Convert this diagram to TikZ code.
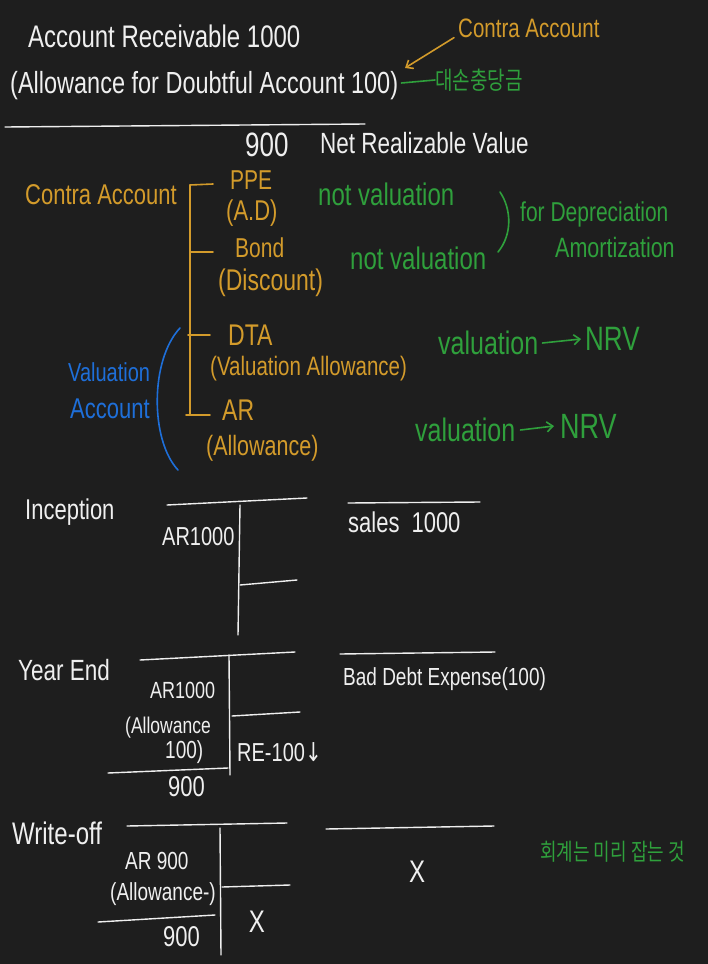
\documentclass[tikz,border=0pt]{standalone}
\usepackage{graphicx}
\usepackage{fontspec}
\setmainfont{Liberation Sans}
\newfontfamily\krfont{Noto Sans CJK KR}
\newfontfamily\symfont{DejaVu Sans}
\usetikzlibrary{arrows.meta}
\definecolor{bg}{HTML}{1E1E1E}
\definecolor{hw}{HTML}{EFEFEF}
\definecolor{org}{HTML}{D39B2B}
\definecolor{grn}{HTML}{2FA03C}
\definecolor{blu}{HTML}{1E6FD9}
\newcommand{\fs}[1]{\fontsize{#1}{#1}\selectfont}
\newcommand{\T}[1]{\scalebox{1}[1.3]{#1}}
\begin{document}
\begin{tikzpicture}[x=1pt,y=-1pt,
  txt/.style={inner sep=0pt, anchor=west, font=\fs{22}},
  wt/.style={txt, text=hw},
  ot/.style={txt, text=org},
  gt/.style={txt, text=grn},
  bt/.style={txt, text=blu},
  wl/.style={draw=hw, line width=1.4pt, line cap=round},
  ol/.style={draw=org, line width=1.6pt, line cap=round},
  gl/.style={draw=grn, line width=1.6pt, line cap=round},
  bl/.style={draw=blu, line width=1.6pt, line cap=round},
  tip/.style={-{Straight Barb[length=6pt,width=10pt]}}
]
\fill[bg] (0,0) rectangle (708,964);
\useasboundingbox (0,0) rectangle (708,964);

% ---------- header ----------
\node[wt, font=\fs{24}] (arhead) at (28,36) {\T{Account Receivable 1000}};
\node[wt, font=\fs{23.5}] (allow) at (10,86) {\T{(Allowance for Doubtful Account 100)}};
\node[txt, text=grn, font=\krfont\fs{19}] (kr1) at (435,80) {\T{대손충당금}};
\draw[gl] (allow.east) ++(3,-3) coordinate (ae) (ae) -- (kr1.west);
\node[ot, font=\fs{20.5}] (ca1) at (458,28) {\T{Contra Account}};
\coordinate (ptr) at (405,68);
\draw[ol, tip] (ca1.south west) ++(-4,0) coordinate (cas) (cas) -- (ptr);
\draw[wl] (5,127) -- (365,124);
\node[wt, font=\fs{26}] (n900) at (245,145) {\T{900}};
\node[wt, font=\fs{22.5}] (nrv) at (320,143) {\T{Net Realizable Value}};

% ---------- contra / valuation ----------
\node[ot, font=\fs{22}] (ca2) at (25,195) {\T{Contra Account}};
\draw[ol] (190,185) -- (190,415);
\draw[ol] (190,185) -- (213,184);
\draw[ol] (190,252) -- (213,252);
\draw[ol] (188,335) -- (210,335);
\draw[ol] (186,415) -- (210,415);
\node[ot, font=\fs{21}] (ppe) at (230,180) {\T{PPE}};
\node[ot, font=\fs{22}] (ad) at (226,213) {\T{(A.D)}};
\node[ot, font=\fs{21}] (bond) at (235,248) {\T{Bond}};
\node[ot, font=\fs{23}] (disc) at (218,283) {\T{(Discount)}};
\node[ot, font=\fs{23}] (dta) at (228,335) {\T{DTA}};
\node[ot, font=\fs{20.5}] (va) at (210,369) {\T{(Valuation Allowance)}};
\node[ot, font=\fs{23}] (arv) at (222,410) {\T{AR}};
\node[ot, font=\fs{21.5}] (allw) at (206,448) {\T{(Allowance)}};

\node[gt, font=\fs{24}] (nv1) at (318,194) {\T{not valuation}};
\node[gt, font=\fs{24}] (nv2) at (350,258) {\T{not valuation}};
\draw[gl] (500,192) .. controls (512,210) and (512,235) .. (498,252);
\node[gt, font=\fs{21}] (dep) at (520,214) {\T{for Depreciation}};
\node[gt, font=\fs{21.5}] (amo) at (555,248) {\T{Amortization}};
\node[gt, font=\fs{25}] (val1) at (438,343) {\T{valuation}};
\node[gt, font=\fs{26}] (nrv1) at (585,339) {\T{NRV}};
\draw[gl, tip] (val1.east) ++(4,0) coordinate (v1e) (v1e) -- ([xshift=-4pt]nrv1.west);
\node[gt, font=\fs{25}] (val2) at (415,430) {\T{valuation}};
\node[gt, font=\fs{27}] (nrv2) at (560,426) {\T{NRV}};
\draw[gl, tip] (val2.east) ++(5,0) coordinate (v2e) (v2e) -- ([xshift=-6pt]nrv2.west);

\node[bt, font=\fs{20}] (vacc1) at (68,372) {\T{Valuation}};
\node[bt, font=\fs{22}] (vacc2) at (70,409) {\T{Account}};
\draw[bl] (180,328) .. controls (150,360) and (150,440) .. (178,470);

% ---------- Inception ----------
\node[wt, font=\fs{22}] (inc) at (25,512) {\T{Inception}};
\draw[wl] (167,505) -- (307,498);
\draw[wl] (240,505) -- (238,635);
\draw[wl] (240,585) -- (297,580);
\node[wt, font=\fs{20}] (ar1) at (162,537) {\T{AR1000}};
\draw[wl] (348,503) -- (480,502);
\node[wt, font=\fs{22}] (sales) at (348,522) {\T{sales\hspace{12pt}1000}};

% ---------- Year End ----------
\node[wt, font=\fs{22.5}] (ye) at (18,670) {\T{Year End}};
\draw[wl] (140,660) -- (295,652);
\draw[wl] (229,655) -- (230,775);
\draw[wl] (232,716) -- (300,712);
\node[wt, font=\fs{18}] (ar2) at (150,690) {\T{AR1000}};
\node[wt, font=\fs{17.5}] (al2) at (125,728) {\T{(Allowance}};
\node[wt, font=\fs{19}] (al2b) at (165,752) {\T{100)}};
\draw[wl] (108,773) -- (228,768);
\node[wt, font=\fs{22}] (ye900) at (168,787) {\T{900}};
\node[wt, font=\fs{20}] (re) at (237,752) {\T{RE-100{\symfont\char"2193}}};
\draw[wl] (340,654) -- (495,652);
\node[wt, font=\fs{19}] (bde) at (343,679) {\T{Bad Debt Expense(100)}};

% ---------- Write-off ----------
\node[wt, font=\fs{24}] (wo) at (12,833) {\T{Write-off}};
\draw[wl] (127,826) -- (287,823);
\draw[wl] (220,828) -- (221,955);
\draw[wl] (222,887) -- (290,885);
\node[wt, font=\fs{19}] (ar3) at (125,861) {\T{AR 900}};
\node[wt, font=\fs{19}] (al3) at (110,894) {\T{(Allowance-)}};
\draw[wl] (98,922) -- (215,915);
\node[wt, font=\fs{22}] (wo900) at (163,937) {\T{900}};
\node[wt, font=\fs{24}, anchor=center] (x1) at (257,922) {\T{X}};
\draw[wl] (326,829) -- (494,826);
\node[wt, font=\fs{24}, anchor=center] (x2) at (417,872) {\T{X}};
\node[txt, text=grn, font=\krfont\fs{18}] (kr2) at (540,852) {\T{회계는 미리 잡는 것}};
\end{tikzpicture}
\end{document}
